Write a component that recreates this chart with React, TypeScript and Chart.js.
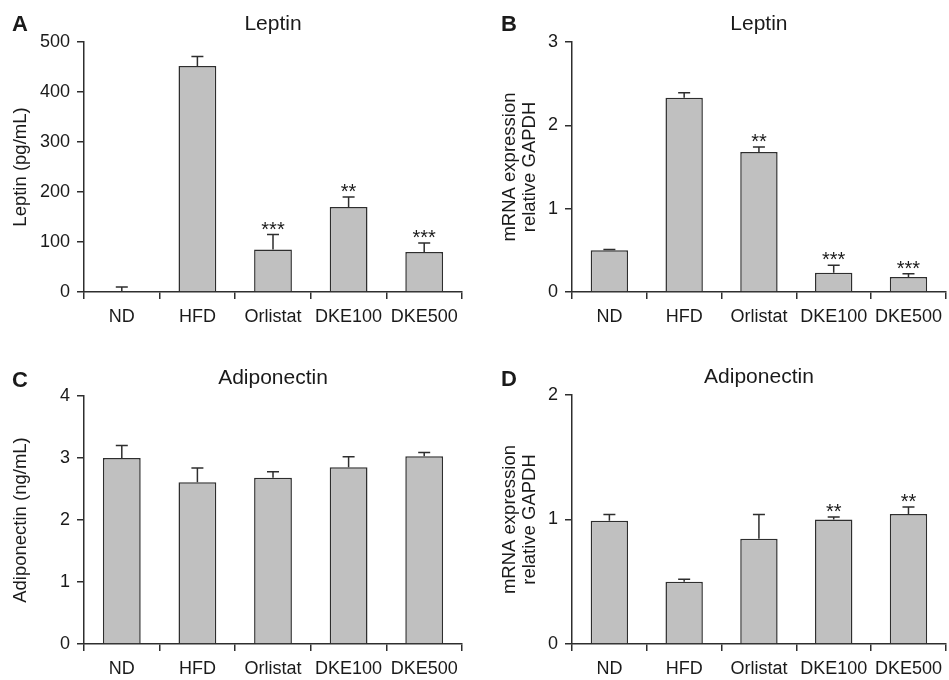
import React, { useEffect, useRef } from "react";
import { Chart, registerables } from "chart.js";

Chart.register(...registerables);

// ---------- data ----------
const categories = ["ND", "HFD", "Orlistat", "DKE100", "DKE500"];

const leptinSerum = [0, 452, 85, 170, 80];
const leptinSerumErr = [10, 19, 30, 20, 18];
const leptinSerumSig = ["", "", "***", "**", "***"];

const leptinMrna = [0.5, 2.33, 1.68, 0.23, 0.18];
const leptinMrnaErr = [0.01, 0.06, 0.06, 0.09, 0.04];
const leptinMrnaSig = ["", "", "**", "***", "***"];

const adipoSerum = [3.0, 2.61, 2.68, 2.85, 3.03];
const adipoSerumErr = [0.2, 0.23, 0.1, 0.17, 0.06];
const adipoSerumSig = ["", "", "", "", ""];

const adipoMrna = [0.99, 0.5, 0.845, 1.0, 1.045];
const adipoMrnaErr = [0.05, 0.02, 0.195, 0.02, 0.055];
const adipoMrnaSig = ["", "", "", "**", "**"];

const FONT = "'Liberation Sans', Arial, Helvetica, sans-serif";
const INK = "#1a1a1a";
const LINE = "#2e2e2e";
const BAR = "#c0c0c0";

type Spec = {
  letter: string;
  title: string;
  yTitle: string[];
  values: number[];
  errors: number[];
  sig: string[];
  max: number;
  step: number;
  x: number;
  y: number;
  w: number;
  h: number;
  area: { left: number; top: number; right: number; bottom: number };
  letterY: number;
  yTitleX: number[];
};

const panels: Spec[] = [
  {
    letter: "A", title: "Leptin", yTitle: ["Leptin (pg/mL)"],
    values: leptinSerum, errors: leptinSerumErr, sig: leptinSerumSig,
    max: 500, step: 100, x: 0, y: 0, w: 475, h: 340,
    area: { left: 84, top: 42, right: 462, bottom: 292 }, letterY: 25, yTitleX: [21],
  },
  {
    letter: "B", title: "Leptin", yTitle: ["mRNA expression", "relative GAPDH"],
    values: leptinMrna, errors: leptinMrnaErr, sig: leptinMrnaSig,
    max: 3, step: 1, x: 475, y: 0, w: 474, h: 340,
    area: { left: 97, top: 42, right: 474, bottom: 292 }, letterY: 25, yTitleX: [35, 55],
  },
  {
    letter: "C", title: "Adiponectin", yTitle: ["Adiponectin (ng/mL)"],
    values: adipoSerum, errors: adipoSerumErr, sig: adipoSerumSig,
    max: 4, step: 1, x: 0, y: 340, w: 475, h: 340,
    area: { left: 84, top: 56, right: 462, bottom: 304 }, letterY: 41, yTitleX: [21],
  },
  {
    letter: "D", title: "Adiponectin", yTitle: ["mRNA expression", "relative GAPDH"],
    values: adipoMrna, errors: adipoMrnaErr, sig: adipoMrnaSig,
    max: 2, step: 1, x: 475, y: 340, w: 474, h: 340,
    area: { left: 97, top: 55, right: 474, bottom: 304 }, letterY: 40, yTitleX: [35, 55],
  },
];

function Panel({ spec }: { spec: Spec }) {
  const ref = useRef<HTMLCanvasElement | null>(null);

  useEffect(() => {
    const canvas = ref.current;
    if (!canvas) return;

    const decor = {
      id: "decor",
      afterDatasetsDraw(chart: any) {
        const ctx = chart.ctx;
        const yScale = chart.scales.y;
        const meta = chart.getDatasetMeta(0);
        ctx.save();
        // error bars
        ctx.strokeStyle = LINE;
        ctx.lineWidth = 1.5;
        meta.data.forEach((bar: any, i: number) => {
          const top = yScale.getPixelForValue(spec.values[i]);
          const et = yScale.getPixelForValue(spec.values[i] + spec.errors[i]);
          ctx.beginPath();
          ctx.moveTo(bar.x, top);
          ctx.lineTo(bar.x, et);
          ctx.moveTo(bar.x - 6, et);
          ctx.lineTo(bar.x + 6, et);
          ctx.stroke();
          // significance
          if (spec.sig[i]) {
            ctx.fillStyle = INK;
            ctx.font = `20px ${FONT}`;
            ctx.textAlign = "center";
            ctx.textBaseline = "alphabetic";
            ctx.fillText(spec.sig[i], bar.x, et + 1);
          }
        });
        const ca = chart.chartArea;
        // title
        ctx.fillStyle = INK;
        ctx.font = `21px ${FONT}`;
        ctx.textAlign = "center";
        ctx.textBaseline = "middle";
        ctx.fillText(spec.title, (ca.left + ca.right) / 2, ca.top - 18);
        // panel letter
        ctx.font = `bold 22px ${FONT}`;
        ctx.textAlign = "left";
        ctx.fillText(spec.letter, spec.letter === "B" || spec.letter === "D" ? 26 : 12, spec.letterY);
        // y title
        ctx.font = `18.5px ${FONT}`;
        const cy = (ca.top + ca.bottom) / 2;
        spec.yTitle.forEach((line, k) => {
          ctx.save();
          ctx.translate(spec.yTitleX[k], cy);
          ctx.rotate(-Math.PI / 2);
          ctx.textAlign = "center";
          ctx.textBaseline = "middle";
          ctx.fillText(line, 0, 0);
          ctx.restore();
        });
        ctx.restore();
      },
    };

    const chart = new Chart(canvas, {
      type: "bar",
      data: {
        labels: categories,
        datasets: [
          {
            data: spec.values,
            backgroundColor: BAR,
            borderColor: LINE,
            borderWidth: 1.5,
            barPercentage: 0.5,
            categoryPercentage: 1.0,
          },
        ],
      },
      options: {
        animation: false,
        responsive: false,
        devicePixelRatio: 1,
        layout: {
          padding: { left: 0, top: spec.area.top, right: spec.w - spec.area.right, bottom: 0 },
        },
        plugins: {
          legend: { display: false },
          title: { display: false },
          tooltip: { enabled: false },
        },
        scales: {
          x: {
            afterFit: (s: any) => {
              s.height = spec.h - spec.area.bottom;
            },
            grid: {
              display: true,
              drawOnChartArea: false,
              drawTicks: true,
              tickLength: 7,
              color: LINE,
              lineWidth: 1.5,
              offset: true,
            },
            border: { display: true, color: LINE, width: 1.5 },
            ticks: {
              color: INK,
              font: { family: FONT, size: 18 },
              padding: 7,
              maxRotation: 0,
              autoSkip: false,
            },
          },
          y: {
            min: 0,
            max: spec.max,
            afterFit: (s: any) => {
              s.width = spec.area.left;
            },
            grid: {
              display: true,
              drawOnChartArea: false,
              drawTicks: true,
              tickLength: 7,
              color: LINE,
              lineWidth: 1.5,
            },
            border: { display: true, color: LINE, width: 1.5 },
            ticks: {
              stepSize: spec.step,
              color: INK,
              font: { family: FONT, size: 18 },
              padding: 7,
            },
          },
        },
      },
      plugins: [decor],
    } as any);

    return () => chart.destroy();
  }, [spec]);

  return (
    <div style={{ position: "absolute", left: spec.x, top: spec.y, width: spec.w, height: spec.h }}>
      <canvas ref={ref} width={spec.w} height={spec.h} style={{ width: spec.w, height: spec.h, display: "block" }} />
    </div>
  );
}

export default function App() {
  return (
    <div
      style={{
        position: "fixed",
        left: 0,
        top: 0,
        width: 949,
        height: 680,
        background: "#ffffff",
        overflow: "hidden",
      }}
    >
      {panels.map((p) => (
        <Panel key={p.letter} spec={p} />
      ))}
    </div>
  );
}
